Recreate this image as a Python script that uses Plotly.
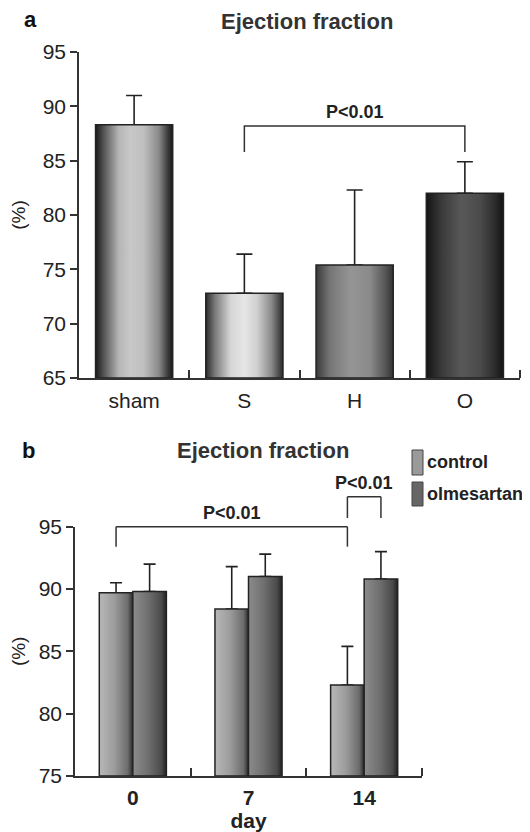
import plotly.graph_objects as go

# ---------------- data ----------------
groups_a = ["sham", "S", "H", "O"]
ef_a = [88.3, 72.8, 75.4, 82.0]
err_a = [2.7, 3.6, 6.9, 2.9]

days_b = ["0", "7", "14"]
series_b = ["control", "olmesartan"]
ef_control = [89.7, 88.4, 82.3]
err_control = [0.8, 3.4, 3.1]
ef_olm = [89.8, 91.0, 90.8]
err_olm = [2.2, 1.8, 2.2]

# significance brackets: (from, to, bar_level, leg_bottom, text_level)
p_text = "P<0.01"
bracket_a = (1, 3, 88.2, 85.8, 89.5)
# panel b brackets given as (group index, series index) pairs
bracket_b = [
    ((0, 0), (2, 0), 95.0, 93.4, 96.1),
    ((2, 0), (2, 1), 97.4, 95.7, 98.5),
]

yticks_a = [65, 70, 75, 80, 85, 90, 95]
yticks_b = [75, 80, 85, 90, 95]

# ---------------- style ----------------
W, H = 530, 832
PAGE_PAD = 8          # default body margin of the html page
FW, FH = W - PAGE_PAD, H - PAGE_PAD
FONT = "Liberation Sans, Arial, sans-serif"
INK = "#222222"
BW_A = 0.7
BGAP_B = 0.42
BW_B = (1 - BGAP_B) / 2

DOM_AX = (79, 520)
DOM_AY = (378, 52)
DOM_BX = (75, 422)
DOM_BY = (776, 526.7)

grad_a = [
    [[0, "#1a1a1a"], [0.1, "#505050"], [0.3, "#b5b5b5"], [0.45, "#c8c8c8"], [0.62, "#c0c0c0"], [0.82, "#8a8a8a"], [0.95, "#333333"], [1, "#1a1a1a"]],
    [[0, "#2a2a2a"], [0.12, "#7a7a7a"], [0.32, "#d5d5d5"], [0.5, "#e6e6e6"], [0.66, "#d0d0d0"], [0.85, "#8a8a8a"], [1, "#2a2a2a"]],
    [[0, "#3a3a3a"], [0.18, "#767676"], [0.45, "#959595"], [0.7, "#8a8a8a"], [0.9, "#555555"], [1, "#333333"]],
    [[0, "#151515"], [0.2, "#3a3a3a"], [0.45, "#585858"], [0.7, "#4a4a4a"], [0.9, "#2a2a2a"], [1, "#111111"]],
]
grad_b = [
    [[0, "#b8b8b8"], [0.45, "#9c9c9c"], [0.85, "#6c6c6c"], [1, "#2a2a2a"]],
    [[0, "#8c8c8c"], [0.45, "#707070"], [0.85, "#4a4a4a"], [1, "#222222"]],
]
legend_fill = ["#9a9a9a", "#666666"]


def px_x(p):
    return (p - PAGE_PAD) / FW


def px_y(p):
    return 1 - (p - PAGE_PAD) / FH


def y2paper(v):
    # map a panel-b data value to paper coordinates (same linear scale as yaxis2)
    lo, hi = yticks_b[0], yticks_b[-1]
    d0, d1 = px_y(DOM_BY[0]), px_y(DOM_BY[1])
    return d0 + (v - lo) / (hi - lo) * (d1 - d0)


fig = go.Figure()

# ---------------- panel a ----------------
fig.add_trace(go.Bar(
    x=list(range(len(groups_a))), y=ef_a, width=BW_A,
    marker=dict(color="#999999", line=dict(width=0)),
    error_y=dict(type="data", symmetric=False, array=err_a, arrayminus=[0] * len(err_a),
                 color=INK, thickness=1.6, width=8),
    xaxis="x", yaxis="y", showlegend=False, name="EF",
))
base_a = yticks_a[0]
for i, v in enumerate(ef_a):
    x0, x1 = i - BW_A / 2, i + BW_A / 2
    fig.add_trace(go.Scatter(
        x=[x0, x0, x1, x1, x0], y=[base_a, v, v, base_a, base_a],
        mode="lines", fill="toself",
        fillgradient=dict(type="horizontal", colorscale=grad_a[i]),
        line=dict(color=INK, width=1.5),
        xaxis="x", yaxis="y", showlegend=False, hoverinfo="skip",
    ))

xa0, xa1, ylev, yleg, ytxt = bracket_a
fig.add_trace(go.Scatter(
    x=[xa0, xa0, xa1, xa1], y=[yleg, ylev, ylev, yleg], mode="lines",
    line=dict(color="#333333", width=1.5), xaxis="x", yaxis="y",
    showlegend=False, hoverinfo="skip",
))
fig.add_annotation(x=(xa0 + xa1) / 2, y=ytxt, xref="x", yref="y", text="<b>%s</b>" % p_text,
                   showarrow=False, font=dict(family=FONT, size=18, color="#222222"),
                   yanchor="middle")

# ---------------- panel b ----------------
vals_b = [ef_control, ef_olm]
errs_b = [err_control, err_olm]
for k, name in enumerate(series_b):
    fig.add_trace(go.Bar(
        x=list(range(len(days_b))), y=vals_b[k], name=name,
        marker=dict(color=legend_fill[k], line=dict(width=0)),
        error_y=dict(type="data", symmetric=False, array=errs_b[k],
                     arrayminus=[0] * len(errs_b[k]), color=INK, thickness=1.6, width=6),
        xaxis="x2", yaxis="y2", showlegend=False,
    ))


def bx(i, k):
    return i - len(series_b) * BW_B / 2 + k * BW_B


base_b = yticks_b[0]
for k in range(len(series_b)):
    for i, v in enumerate(vals_b[k]):
        x0, x1 = bx(i, k), bx(i, k) + BW_B
        fig.add_trace(go.Scatter(
            x=[x0, x0, x1, x1, x0], y=[base_b, v, v, base_b, base_b],
            mode="lines", fill="toself",
            fillgradient=dict(type="horizontal", colorscale=grad_b[k]),
            line=dict(color=INK, width=1.5),
            xaxis="x2", yaxis="y2", showlegend=False, hoverinfo="skip",
        ))

for (a, b, ylev, yleg, ytxt) in bracket_b:
    xa = bx(*a) + BW_B / 2
    xb = bx(*b) + BW_B / 2
    for (sx0, sy0, sx1, sy1) in ((xa, yleg, xa, ylev), (xa, ylev, xb, ylev), (xb, ylev, xb, yleg)):
        fig.add_shape(type="line", xref="x2", yref="paper",
                      x0=sx0, x1=sx1, y0=y2paper(sy0), y1=y2paper(sy1),
                      line=dict(color="#333333", width=1.5))
    fig.add_annotation(x=(xa + xb) / 2, y=y2paper(ytxt), xref="x2", yref="paper",
                       text="<b>%s</b>" % p_text, showarrow=False,
                       font=dict(family=FONT, size=18, color="#222222"), yanchor="middle")

# legend (manual)
leg_y = [(450, 475), (482, 506)]
for k, name in enumerate(series_b):
    y0, y1 = leg_y[k]
    fig.add_shape(type="rect", xref="paper", yref="paper",
                  x0=px_x(412), x1=px_x(423), y0=px_y(y1), y1=px_y(y0),
                  fillcolor=legend_fill[k], line=dict(color="#444444", width=1))
    fig.add_annotation(x=px_x(425), y=px_y((y0 + y1) / 2), xref="paper", yref="paper",
                       text="<b>%s</b>" % name, showarrow=False, xanchor="left",
                       yanchor="middle", font=dict(family=FONT, size=18, color="#222222"))

# titles and panel letters
for lbl, xp, yp in (("a", 22, 20), ("b", 20, 450)):
    fig.add_annotation(x=px_x(xp), y=px_y(yp), xref="paper", yref="paper",
                       text="<b>%s</b>" % lbl, showarrow=False, yanchor="middle",
                       font=dict(family=FONT, size=22, color="#111111"))
for xp, yp in ((307, 22), (263, 450)):
    fig.add_annotation(x=px_x(xp), y=px_y(yp), xref="paper", yref="paper",
                       text="<b>Ejection fraction</b>", showarrow=False, yanchor="middle",
                       font=dict(family=FONT, size=22, color="#333333"))

axis_common = dict(showgrid=False, zeroline=False, showline=True, automargin=False,
                   linecolor="#333333", linewidth=1.5)

fig.update_layout(
    template="none",
    width=FW, height=FH,
    margin=dict(l=0, r=0, t=0, b=0, pad=0),
    paper_bgcolor="white", plot_bgcolor="white",
    barmode="group", bargap=BGAP_B, bargroupgap=0,
    font=dict(family=FONT, color="#222222"),
    xaxis=dict(
        domain=[px_x(DOM_AX[0]), px_x(DOM_AX[1])], range=[-0.5, len(groups_a) - 0.5],
        tickmode="array", tickvals=list(range(len(groups_a))), ticktext=groups_a,
        ticks="", tickfont=dict(size=21, color="#222222"), ticklabelstandoff=3,
        minor=dict(tickmode="array", tickvals=[i + 0.5 for i in range(len(groups_a))],
                   ticks="inside", ticklen=8, tickwidth=1.5, tickcolor="#333333"),
        anchor="y", **axis_common,
    ),
    yaxis=dict(
        domain=[px_y(DOM_AY[0]), px_y(DOM_AY[1])], range=[yticks_a[0], yticks_a[-1]],
        tickmode="array", tickvals=yticks_a, ticks="outside", ticklen=7,
        tickwidth=1.5, tickcolor="#333333", tickfont=dict(size=21, color="#222222"),
        title=dict(text="(%)", font=dict(size=19, color="#222222"), standoff=12),
        anchor="x", **axis_common,
    ),
    xaxis2=dict(
        domain=[px_x(DOM_BX[0]), px_x(DOM_BX[1])], range=[-0.5, len(days_b) - 0.5],
        tickmode="array", tickvals=list(range(len(days_b))),
        ticktext=["<b>%s</b>" % d for d in days_b],
        ticks="", tickfont=dict(size=21, color="#222222"), ticklabelstandoff=2,
        minor=dict(tickmode="array", tickvals=[i + 0.5 for i in range(len(days_b))],
                   ticks="inside", ticklen=8, tickwidth=1.5, tickcolor="#333333"),
        title=dict(text="<b>day</b>", font=dict(size=21, color="#222222"), standoff=15),
        anchor="y2", **axis_common,
    ),
    yaxis2=dict(
        domain=[px_y(DOM_BY[0]), px_y(DOM_BY[1])], range=[yticks_b[0], yticks_b[-1]],
        tickmode="array", tickvals=yticks_b, ticks="outside", ticklen=7,
        tickwidth=1.5, tickcolor="#333333", tickfont=dict(size=21, color="#222222"),
        title=dict(text="(%)", font=dict(size=19, color="#222222"), standoff=12),
        anchor="x2", **axis_common,
    ),
)

fig.write_html("out.html")
